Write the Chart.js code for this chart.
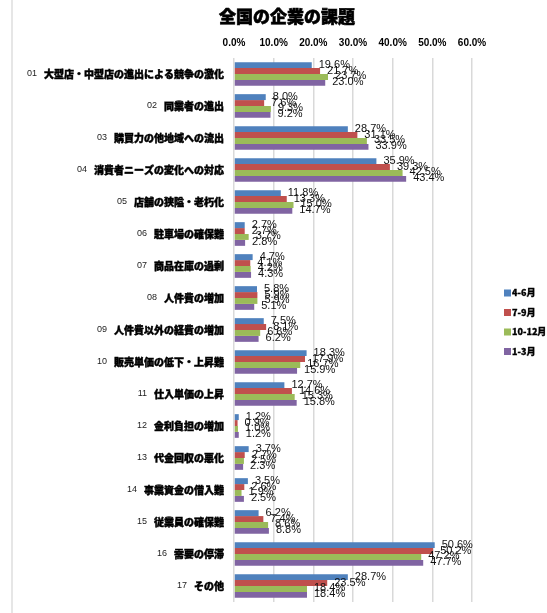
<!DOCTYPE html>
<html>
<head>
<meta charset="utf-8">
<script src="https://cdn.jsdelivr.net/npm/chart.js@4"></script>
<style>
  body { margin: 0; background: #fff; }
  #wrap { width: 547px; height: 613px; position: relative; }
</style>
</head>
<body>
<div id="wrap"><canvas id="myChart"></canvas></div>
<script>
const codes = ["01","02","03","04","05","06","07","08","09","10","11","12","13","14","15","16","17"];
const categories = [
    "大型店・中型店の進出による競争の激化",
    "同業者の進出",
    "購買力の他地域への流出",
    "消費者ニーズの変化への対応",
    "店舗の狭隘・老朽化",
    "駐車場の確保難",
    "商品在庫の過剰",
    "人件費の増加",
    "人件費以外の経費の増加",
    "販売単価の低下・上昇難",
    "仕入単価の上昇",
    "金利負担の増加",
    "代金回収の悪化",
    "事業資金の借入難",
    "従業員の確保難",
    "需要の停滞",
    "その他"
];
const seriesNames = ["4-6月", "7-9月", "10-12月", "1-3月"];
const apr = [19.6, 8.0, 28.7, 35.9, 11.8, 2.7, 4.7, 5.8, 7.5, 18.3, 12.7, 1.2, 3.7, 3.5, 6.2, 50.6, 28.7];
const jul = [21.7, 7.6, 31.1, 39.3, 13.3, 2.7, 4.1, 5.9, 8.1, 17.9, 14.6, 0.9, 2.7, 2.6, 7.4, 50.2, 23.5];
const oct = [23.7, 9.3, 33.5, 42.5, 15.0, 3.7, 4.2, 5.9, 6.6, 16.7, 15.3, 1.0, 2.5, 1.9, 8.6, 47.2, 18.4];
const jan = [23.0, 9.2, 33.9, 43.4, 14.7, 2.8, 4.3, 5.1, 6.2, 15.9, 15.8, 1.2, 2.3, 2.5, 8.8, 47.7, 18.4];
const xTicks = [0, 10, 20, 30, 40, 50, 60];
const colors = ["#4F81BD", "#C0504D", "#9BBB59", "#8064A2"];

const jpFont = '"Noto Sans CJK JP", "Noto Sans", sans-serif';

// fill + thin stroke so the heavy gothic look comes through
function heavyText(c, text, x, y, sw) {
    c.lineWidth = sw;
    c.strokeStyle = '#000';
    c.strokeText(text, x, y);
    c.fillText(text, x, y);
}

// title, left frame line, category labels, legend
const decorations = {
    id: 'decorations',
    beforeDraw(chart) {
        const c = chart.ctx;
        c.save();
        c.fillStyle = '#fff';
        c.fillRect(0, 0, chart.width, chart.height);
        c.strokeStyle = '#e6e6e6';
        c.lineWidth = 2;
        c.beginPath();
        c.moveTo(12, 0);
        c.lineTo(12, chart.height);
        c.stroke();
        c.restore();
    },
    afterDraw(chart) {
        const c = chart.ctx;
        const y = chart.scales.y;
        c.save();
        c.fillStyle = '#000';
        c.textBaseline = 'middle';
        c.textAlign = 'center';
        c.font = '900 17px ' + jpFont;
        heavyText(c, '全国の企業の課題', 287, 17, 0.6);

        c.textAlign = 'right';
        categories.forEach(function(name, i) {
            const py = y.getPixelForValue(i);
            c.font = '900 10px ' + jpFont;
            c.fillStyle = '#000';
            heavyText(c, name, 224, py, 0.45);
            const w = c.measureText(name).width;
            c.font = '9px "Liberation Sans", sans-serif';
            c.fillStyle = '#222';
            c.fillText(codes[i], 224 - w - 7, py);
        });

        c.textAlign = 'left';
        seriesNames.forEach(function(s, i) {
            const ly = 293 + i * 19.5;
            c.fillStyle = colors[i];
            c.fillRect(504, ly - 3.5, 7, 7);
            c.fillStyle = '#000';
            c.font = '900 9px ' + jpFont;
            heavyText(c, s, 512, ly, 0.3);
        });
        c.restore();
    },
    afterDatasetsDraw(chart) {
        const c = chart.ctx;
        c.save();
        c.fillStyle = '#111';
        c.font = '11px "Liberation Sans", sans-serif';
        c.textAlign = 'left';
        c.textBaseline = 'middle';
        chart.data.datasets.forEach(function(ds, di) {
            chart.getDatasetMeta(di).data.forEach(function(bar, i) {
                c.fillText(ds.data[i].toFixed(1) + '%', bar.x + 7, bar.y - 0.5);
            });
        });
        c.restore();
    }
};

const ctx = document.getElementById('myChart').getContext('2d');
const myChart = new Chart(ctx, {
    type: 'bar',
    data: {
        labels: categories,
        datasets: [
            { label: seriesNames[0], data: apr, backgroundColor: colors[0] },
            { label: seriesNames[1], data: jul, backgroundColor: colors[1] },
            { label: seriesNames[2], data: oct, backgroundColor: colors[2] },
            { label: seriesNames[3], data: jan, backgroundColor: colors[3] }
        ]
    },
    options: {
        indexAxis: 'y',
        responsive: true,
        maintainAspectRatio: false,
        animation: false,
        devicePixelRatio: 1,
        layout: { padding: { top: 28, left: 0, right: 75, bottom: 11 } },
        datasets: {
            bar: { categoryPercentage: 0.74, barPercentage: 1.0 }
        },
        scales: {
            x: {
                position: 'top',
                min: 0,
                max: 60,
                afterBuildTicks: function(scale) {
                    scale.ticks = xTicks.map(v => ({ value: v }));
                },
                afterFit: function(scale) { scale.height = 30; },
                border: { display: false },
                grid: { color: '#d9d9d9', lineWidth: 1.5, drawTicks: false },
                ticks: {
                    padding: 9,
                    color: '#000',
                    font: { family: '"Liberation Sans", sans-serif', size: 10, weight: 'bold' },
                    callback: v => v.toFixed(1) + '%'
                }
            },
            y: {
                afterFit: function(scale) { scale.width = 234; },
                border: { display: false },
                grid: { display: false },
                ticks: { display: false }
            }
        },
        plugins: {
            legend: { display: false },
            title: { display: false },
            tooltip: { enabled: false }
        }
    },
    plugins: [decorations]
});
</script>
</body>
</html>
